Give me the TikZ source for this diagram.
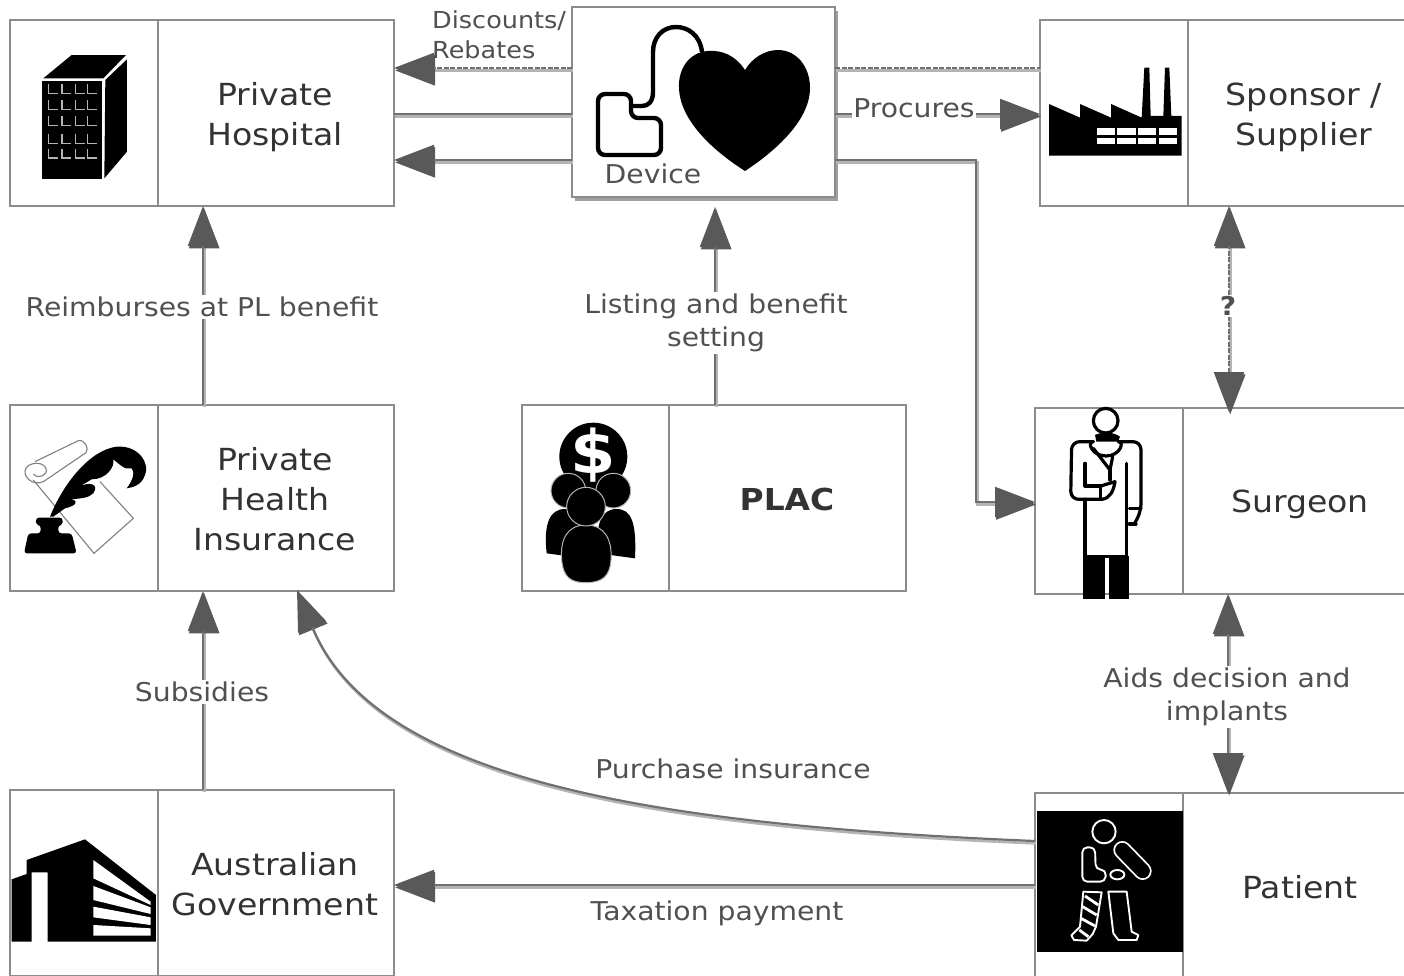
\documentclass[tikz,border=0pt]{standalone}
\usepackage{fontspec}
\setmainfont{DejaVu Sans}[FakeStretch=1.09]
\usetikzlibrary{arrows.meta,shadows}
\definecolor{boxgray}{HTML}{8C8C8C}
\definecolor{linegray}{HTML}{707070}
\definecolor{shadowgray}{HTML}{B4B4B4}
\definecolor{tipgray}{HTML}{595959}
\definecolor{titlecol}{HTML}{333333}
\definecolor{labelcol}{HTML}{505050}
\tikzset{
  boxn/.style={draw=boxgray,line width=2pt,fill=white,minimum width=384pt,minimum height=186pt,anchor=north west,outer sep=0pt,inner sep=0pt},
  divider/.style={draw=boxgray,line width=2pt},
  titletext/.style={text=titlecol,align=center,font=\fontsize{30.4}{40}\selectfont,inner sep=0pt},
  labeltext/.style={text=labelcol,align=center,font=\fontsize{25.9}{32.5}\selectfont,inner sep=2pt},
  onwhite/.style={labeltext,fill=white},
  conn/.style={draw=linegray,line width=2.2pt,preaction={draw=shadowgray,line width=2.6pt,transform canvas={xshift=1.2pt,yshift=-2.4pt}}},
  tip/.style={conn,-{Triangle[length=40pt,width=30pt,color=tipgray]}},
  revtip/.style={conn,{Triangle[length=40pt,width=30pt,color=tipgray]}-{Triangle[length=40pt,width=30pt,color=tipgray]}},
  dashline/.style={dash pattern=on 5pt off 1.5pt},
  icon/.style={x=0.3333pt,y=-0.3333pt},
  ink/.style={fill=black,draw=none},
  wl/.style={draw=white,line width=1.9pt,line join=round},
  bl/.style={draw=black,line width=3.2pt,line join=round,line cap=round},
}
\begin{document}
\begin{tikzpicture}[x=1pt,y=-1pt]
\useasboundingbox (0,0) rectangle (1404,975);
\fill[white] (0,0) rectangle (1404,975);
% boxes
\node[boxn] (hospital) at (10,20) {};
\draw[divider] ([xshift=148pt]hospital.north west) -- ([xshift=148pt]hospital.south west);
\node[titletext] (hospitalt) at (275,117) {Private\\Hospital};
\node[boxn] (phi) at (10,405) {};
\draw[divider] ([xshift=148pt]phi.north west) -- ([xshift=148pt]phi.south west);
\node[titletext] (phit) at (275,499.5) {Private\\Health\\Insurance};
\node[boxn] (gov) at (10,790) {};
\draw[divider] ([xshift=148pt]gov.north west) -- ([xshift=148pt]gov.south west);
\node[titletext] (govt) at (275,884.5) {Australian\\Government};
\node[boxn] (plac) at (522,405) {};
\draw[divider] ([xshift=147pt]plac.north west) -- ([xshift=147pt]plac.south west);
\node[titletext,font=\fontsize{30.2}{40}\selectfont\bfseries] (plact) at (787,499) {PLAC};
\node[boxn] (sponsor) at (1040,20) {};
\draw[divider] ([xshift=148pt]sponsor.north west) -- ([xshift=148pt]sponsor.south west);
\node[titletext] (sponsort) at (1304,117) {Sponsor /\\Supplier};
\node[boxn] (surgeon) at (1035,408) {};
\draw[divider] ([xshift=148pt]surgeon.north west) -- ([xshift=148pt]surgeon.south west);
\node[titletext] (surgeont) at (1300,504) {Surgeon};
\node[boxn] (patient) at (1035,793) {};
\draw[divider] ([xshift=148pt]patient.north west) -- ([xshift=148pt]patient.south west);
\node[titletext] (patientt) at (1300,887.5) {Patient};
\node[boxn,minimum width=263pt,minimum height=190pt,drop shadow={shadow xshift=3pt,shadow yshift=-4pt,fill=gray,opacity=.75}] (device) at (572,7) {};
% levels for the horizontal connectors
\coordinate (ydash) at (0,68);
\coordinate (ymid) at (0,114);
\coordinate (ylow) at (0,160);
\coordinate (ysurg) at (976,160);
\coordinate (ysurg2) at (976,502);
\coordinate (ytax) at (0,885);
\coordinate (ycurve) at (0,841);
\coordinate (xplac) at (715,0);
\coordinate (xsponsor) at (1229,0);
\coordinate (xpatient) at (1228,0);
\coordinate (xleft) at (203,0);
% connectors
\draw[tip,dashline] (device.west |- ydash) -- (hospital.east |- ydash);
\draw[conn,dashline] (device.east |- ydash) -- (sponsor.west |- ydash);
\draw[conn] (hospital.east |- ymid) -- (device.west |- ymid);
\draw[tip] (device.west |- ylow) -- (hospital.east |- ylow);
\draw[tip] (device.east |- ymid) -- (sponsor.west |- ymid);
\draw[tip] (device.east |- ylow) -- (ysurg) -- (ysurg2) -- (surgeon.west |- ysurg2);
\draw[tip] (xleft |- phi.north) -- (xleft |- hospital.south);
\draw[tip] (xleft |- gov.north) -- (xleft |- phi.south);
\draw[tip] (xplac |- plac.north) -- ([yshift=-10pt]xplac |- device.south);
\draw[revtip,dashline] ([yshift=-4pt]xsponsor |- surgeon.north) -- (xsponsor |- sponsor.south);
\draw[revtip] (xpatient |- surgeon.south) -- (xpatient |- patient.north);
\coordinate (curveend) at (297,590);
\draw[tip] (patient.west |- ycurve) .. controls (650,825) and (375,780) .. (curveend);
\draw[tip] (patient.west |- ytax) -- (gov.east |- ytax);
% labels
\node[labeltext,align=left,anchor=north west,inner sep=0pt,font=\fontsize{23.4}{30}\selectfont] (ldisc) at (432,11) {Discounts/\\Rebates};
\node[onwhite,inner sep=1pt] (lproc) at (914,108) {Procures};
\node[onwhite] (lreimb) at (202,307) {Reimburses at PL benefit};
\node[onwhite] (llist) at (716,323) {Listing and benefit\\setting};
\node[onwhite] (lsub) at (202,692) {Subsidies};
\node[onwhite] (laids) at (1227,697) {Aids decision and\\implants};
\node[labeltext] (lpurch) at (733,769) {Purchase insurance};
\node[labeltext] (ltax) at (717,913) {Taxation payment};
\node[labeltext,fill=white,inner sep=1pt,font=\fontsize{25.9}{30}\selectfont\bfseries] (lq) at (1228,306) {?};
\node[labeltext,inner sep=0pt] (ldev) at (653,174) {Device};
% device icon
\draw[ink] (745,70) .. controls (735,55) and (722,50) .. (708,51) .. controls (690,52) and (678,68) .. (679,88) .. controls (680,120) and (712,150) .. (745,171) .. controls (780,148) and (810,118) .. (810,88) .. controls (810,66) and (796,50) .. (778,50) .. controls (765,50) and (752,58) .. (745,70) -- cycle;
\draw[bl,line width=4.4pt,line cap=butt] (702,52) .. controls (700,35) and (688,27) .. (676,27) .. controls (662,27) and (653,38) .. (653,52) -- (653,92) .. controls (653,102) and (648,106) .. (642,106) -- (631,106);
\draw[bl,line width=4.4pt,rounded corners=7pt] (631,94) -- (598,94) -- (598,155) -- (661,155) -- (661,118) -- (631,118) -- cycle;
% hospital icon
\begin{scope}[shift={(0,20)},icon]
\fill (130,175) -- (215,105) -- (378,105) -- (310,175) -- cycle;
\fill (125,182) rectangle (306,478);
\fill (316,180) -- (381,118) -- (381,395) -- (313,475) -- cycle;
\foreach \cx in {146,186,226,263}
  \foreach \cy in {220,268,316,370,414}
    \draw[shadowgray,line width=1.5pt] (\cx,\cy-28) -- (\cx,\cy) -- (\cx+28,\cy);
\end{scope}
% insurance icon
\begin{scope}[shift={(0,400)},icon]
\draw[gray,line width=1.1pt,line join=round] (100,240) -- (282,460) -- (400,355) -- (300,245);
\draw[gray,line width=1.1pt] (105,185) -- (235,122) .. controls (255,118) and (268,145) .. (258,158) -- (130,245) .. controls (95,260) and (65,225) .. (78,205) .. controls (85,190) and (125,180) .. (138,205) .. controls (145,225) and (115,240) .. (100,222);
\fill (150,350) .. controls (190,250) and (270,150) .. (350,140) .. controls (420,135) and (450,195) .. (435,225) .. controls (425,255) and (400,262) .. (380,265) .. controls (400,240) and (405,215) .. (395,205) .. controls (375,212) and (355,190) .. (340,178) .. controls (345,200) and (320,238) .. (275,238) -- (238,260) .. controls (265,245) and (300,250) .. (280,280) .. controls (265,295) and (240,295) .. (215,298) .. controls (240,305) and (225,318) .. (195,325) -- (160,350) -- cycle;
\fill[rounded corners=3pt] (108,353) -- (188,353) -- (188,375) -- (175,375) -- (175,400) -- (215,400) -- (230,460) -- (72,460) -- (85,400) -- (122,400) -- (122,375) -- (108,375) -- cycle;
\end{scope}
% government icon
\begin{scope}[shift={(0,790)},icon]
\fill (35,268) -- (80,252) -- (80,210) -- (255,148) -- (468,315) -- (468,455) -- (143,455) -- (143,247) -- (95,247) -- (95,455) -- (35,455) -- cycle;
\fill[white] (280,210) -- (452,335) -- (452,345) -- (280,265) -- cycle;
\fill[white] (280,288) -- (452,352) -- (452,372) -- (280,330) -- cycle;
\fill[white] (280,350) -- (452,382) -- (452,405) -- (280,382) -- cycle;
\fill[white] (280,405) -- (452,415) -- (452,437) -- (280,437) -- cycle;
\end{scope}
% PLAC icon
\begin{scope}[shift={(530,410)},icon]
\fill (190,140) circle [radius=102];
\node[text=white,font=\fontsize{60}{60}\selectfont\bfseries,inner sep=0pt] (dollar) at (190,135) {\$};
\foreach \dx in {0,155}{
  \fill (50+\dx,430) .. controls (40+\dx,340) and (60+\dx,297) .. (105+\dx,297) .. controls (150+\dx,297) and (165+\dx,340) .. (160+\dx,445) -- cycle;
}
\draw[fill=black,draw=shadowgray,line width=1pt] (115,242) circle [radius=52];
\draw[fill=black,draw=shadowgray,line width=1pt] (250,242) circle [radius=52];
\draw[fill=black,draw=shadowgray,line width=1pt] (95,450) .. controls (90,390) and (110,345) .. (168,345) .. controls (225,345) and (247,390) .. (243,450) .. controls (240,500) and (215,518) .. (168,518) .. controls (125,518) and (100,505) .. (95,450) -- cycle;
\draw[fill=black,draw=shadowgray,line width=1pt] (168,290) circle [radius=58];
\end{scope}
% factory icon
\begin{scope}[shift={(1030,20)},icon]
\fill (57,252) -- (150,293) -- (150,252) -- (243,293) -- (243,252) -- (335,293) -- (343,143) -- (358,143) -- (362,288) -- (400,288) -- (405,143) -- (418,143) -- (424,288) -- (455,288) -- (455,407) -- (57,407) -- cycle;
\foreach \wx/\wy in {200/254,262/317,325/379,386/441}{
  \fill[white] (\wx,323) rectangle (\wy,345);
  \fill[white] (\wx,353) rectangle (\wy,373);
}
\end{scope}
% surgeon icon
\begin{scope}[shift={(1030,400)},icon]
\fill[white] (122,140) rectangle (333,300);
\fill (195,105) .. controls (215,95) and (250,95) .. (270,110) -- (262,130) -- (200,130) -- cycle;
\draw[bl,fill=white] (227,62) circle [radius=37];
\draw[bl,fill=white] (190,125) .. controls (170,125) and (185,168) .. (228,168) .. controls (270,168) and (285,125) .. (265,125);
\draw[bl,rounded corners=8pt] (190,125) -- (125,125) -- (122,298) -- (215,298);
\draw[bl,rounded corners=8pt] (265,125) -- (333,125) -- (333,335) -- (315,368);
\draw[bl] (190,145) -- (240,210) -- (248,170);
\draw[bl] (240,210) -- (240,240);
\draw[bl] (165,190) -- (165,258) -- (212,258) -- (212,298);
\draw[bl] (212,258) -- (255,245) .. controls (250,275) and (240,295) .. (215,298);
\draw[bl] (165,298) -- (165,470) -- (290,470) -- (290,190);
\draw[bl] (298,325) -- (333,325);
\draw[bl] (298,372) -- (318,372);
\fill (160,468) rectangle (225,597);
\fill (237,468) rectangle (297,597);
\end{scope}
% patient icon
\begin{scope}[shift={(1030,790)},icon]
\fill (20,62) rectangle (460,485);
\draw[wl] (222,125) circle [radius=35];
\draw[wl,rounded corners=5pt] (157,172) -- (195,172) -- (197,238) -- (228,240) -- (226,275) -- (157,275) -- cycle;
\draw[white,line width=18pt,line cap=round] (277,180) -- (338,243);
\draw[black,line width=14.4pt,line cap=round] (277,180) -- (338,243);
\draw[wl,fill=black] (262,254) ellipse [x radius=21,y radius=14];
\draw[wl] (160,305) -- (215,307) -- (198,410) -- (188,432) -- (170,452) -- (132,450) -- (124,436) -- (150,410) -- cycle;
\draw[wl,line width=2.8pt] (165,318) -- (205,345);
\draw[wl,line width=2.8pt] (158,350) -- (200,375);
\draw[wl,line width=2.8pt] (153,385) -- (195,408);
\draw[wl,line width=2.8pt] (148,420) -- (175,440);
\draw[wl] (235,305) -- (290,305) -- (305,425) -- (325,435) -- (320,450) -- (265,450) -- (250,430) -- cycle;
\end{scope}
\end{tikzpicture}
\end{document}
